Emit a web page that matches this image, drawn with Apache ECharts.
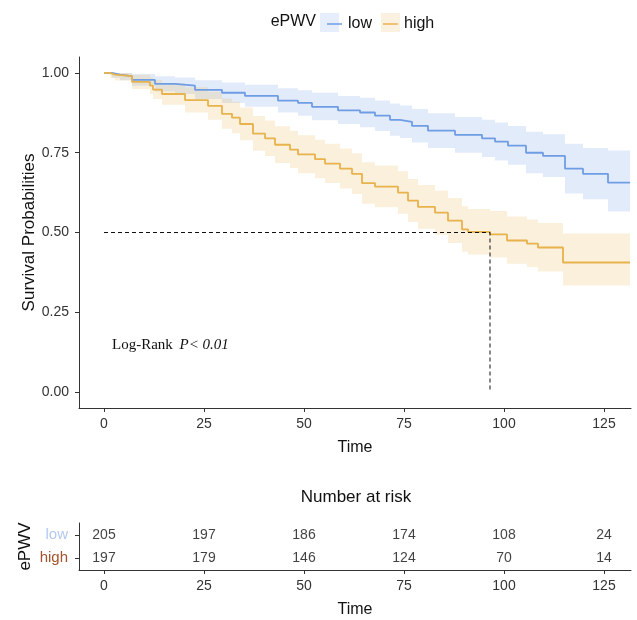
<!DOCTYPE html>
<html>
<head>
<meta charset="utf-8">
<script src="https://cdn.jsdelivr.net/npm/echarts@6/dist/echarts.min.js"></script>
<style>
  html, body { margin: 0; padding: 0; background: #fff; }
  #chart { width: 637px; height: 620px; }
</style>
</head>
<body>
<div id="chart"></div>
<script>
// KM curve for ePWV = low (time, survival, 95% CI)
const lowTime  = [0, 2, 4, 7, 12.75, 17.75, 22.75, 29.5, 35.25, 43.5, 48.5, 52, 58.5, 64, 67.75, 71.5, 74, 77, 81, 87.75, 94.5, 97.75, 101, 105.5, 109.75, 115.25, 119.75, 126, 131.5];
const lowSurv  = [1.000, 0.995, 0.990, 0.978, 0.966, 0.960, 0.947, 0.938, 0.928, 0.913, 0.906, 0.894, 0.883, 0.876, 0.866, 0.853, 0.847, 0.834, 0.819, 0.806, 0.795, 0.785, 0.772, 0.750, 0.740, 0.700, 0.684, 0.656, 0.656];
const lowLower = [1.000, 0.985, 0.977, 0.960, 0.942, 0.934, 0.918, 0.906, 0.894, 0.876, 0.866, 0.852, 0.840, 0.830, 0.818, 0.803, 0.796, 0.782, 0.765, 0.750, 0.737, 0.726, 0.712, 0.686, 0.674, 0.622, 0.604, 0.566, 0.566];
const lowUpper = [1.000, 1.000, 1.000, 0.997, 0.990, 0.986, 0.977, 0.970, 0.963, 0.952, 0.946, 0.938, 0.928, 0.922, 0.914, 0.904, 0.898, 0.887, 0.874, 0.862, 0.853, 0.845, 0.834, 0.816, 0.808, 0.778, 0.765, 0.757, 0.757];

// KM curve for ePWV = high
const highTime  = [0, 1.5, 2.75, 7, 11.5, 12.25, 14.5, 20.25, 26, 29.5, 32, 34, 37.25, 40.25, 42.75, 46.5, 48.5, 52.75, 55.25, 59, 62, 64.5, 67.75, 73.5, 76, 78.5, 82.75, 86, 89.5, 91, 96.5, 100.75, 105.75, 108.5, 114.75, 131.5];
const highSurv  = [1.000, 0.995, 0.990, 0.972, 0.960, 0.948, 0.934, 0.915, 0.897, 0.872, 0.860, 0.840, 0.810, 0.795, 0.775, 0.760, 0.745, 0.730, 0.716, 0.700, 0.684, 0.655, 0.644, 0.625, 0.600, 0.580, 0.562, 0.537, 0.510, 0.502, 0.494, 0.475, 0.465, 0.453, 0.406, 0.406];
const highLower = [1.000, 0.985, 0.976, 0.950, 0.934, 0.918, 0.900, 0.876, 0.853, 0.825, 0.811, 0.789, 0.756, 0.740, 0.718, 0.702, 0.686, 0.670, 0.655, 0.638, 0.621, 0.590, 0.579, 0.559, 0.533, 0.512, 0.493, 0.467, 0.440, 0.431, 0.422, 0.402, 0.391, 0.378, 0.334, 0.334];
const highUpper = [1.000, 1.000, 1.000, 0.994, 0.987, 0.978, 0.968, 0.955, 0.941, 0.920, 0.910, 0.892, 0.865, 0.851, 0.833, 0.819, 0.805, 0.791, 0.778, 0.763, 0.748, 0.720, 0.710, 0.692, 0.668, 0.649, 0.632, 0.608, 0.582, 0.574, 0.567, 0.550, 0.541, 0.530, 0.497, 0.497];

const medianTime = 96.5;
const medianSurv = 0.5;

// number at risk table
const riskTime = [0, 25, 50, 75, 100, 125];
const riskLow  = [205, 197, 186, 174, 108, 24];
const riskHigh = [197, 179, 146, 124, 70, 14];

const xTicks = [0, 25, 50, 75, 100, 125];
const yTicks = [0, 0.25, 0.5, 0.75, 1];
const groups = ['high', 'low'];

const blue = '#6f9de4';
const orange = '#e8b24c';
const font = 'Liberation Sans';

const chart = echarts.init(document.getElementById('chart'));

function pairs(t, v) { return t.map((x, i) => [x, v[i]]); }

// confidence band as one stepped polygon, placed through the axes
function band(name, t, lo, hi, color) {
  return {
    name: name, type: 'custom', silent: true, z: 1,
    data: t.map((x, i) => [x, lo[i], hi[i]]),
    encode: { x: 0, y: [1, 2] },
    renderItem: function (params, api) {
      if (params.dataIndex !== 0) return null;
      const n = t.length;
      const pts = [];
      for (let i = 0; i < n - 1; i++) {
        pts.push(api.coord([t[i], hi[i]]));
        pts.push(api.coord([t[i + 1], hi[i]]));
      }
      for (let i = n - 2; i >= 0; i--) {
        pts.push(api.coord([t[i + 1], lo[i]]));
        pts.push(api.coord([t[i], lo[i]]));
      }
      return {
        type: 'polygon',
        shape: { points: pts },
        style: { fill: color, opacity: 0.2 }
      };
    }
  };
}

const axisLine = { show: true, onZero: false, lineStyle: { color: '#333', width: 1 } };
const axisTick = { show: true, length: 4, lineStyle: { color: '#333' } };

const option = {
  animation: false,
  textStyle: { fontFamily: font },
  legend: {
    data: ['low', 'high'],
    left: 322, top: 11,
    icon: 'path://M0,0 L10,0 L10,1 L0,1 Z',
    itemWidth: 15, itemHeight: 2, itemGap: 11,
    textStyle: { fontSize: 16, color: '#111', padding: [0, 0, 0, 1] }
  },
  graphic: [
    { type: 'rect', shape: { x: 320, y: 13, width: 19, height: 19 }, style: { fill: '#e6eefb' }, z: -1 },
    { type: 'rect', shape: { x: 381, y: 13, width: 19, height: 19 }, style: { fill: '#fbf1e0' }, z: -1 },
    { type: 'text', x: 316, y: 22, style: { text: 'ePWV', fontSize: 16, fontFamily: font, fill: '#111', align: 'right', verticalAlign: 'middle' } },
    { type: 'text', x: 356, y: 497, style: { text: 'Number at risk', fontSize: 17, fontFamily: font, fill: '#111', align: 'center', verticalAlign: 'middle' } },
    {
      type: 'text', x: 112, y: 345,
      style: {
        text: '{a|Log-Rank}  {b|P< 0.01}',
        verticalAlign: 'middle',
        rich: {
          a: { fontSize: 15, fontFamily: 'Liberation Serif', fill: '#111' },
          b: { fontSize: 15, fontFamily: 'Liberation Serif', fontStyle: 'italic', fill: '#111' }
        }
      }
    }
  ],
  grid: [
    { left: 79, right: 6, top: 57, bottom: 212 },
    { left: 79, right: 6, top: 523, bottom: 50 }
  ],
  xAxis: [
    {
      type: 'value', gridIndex: 0, min: -6.25, max: 131.75,
      name: 'Time', nameLocation: 'middle', nameGap: 32,
      nameTextStyle: { fontSize: 16, color: '#111' },
      axisLine, axisTick: Object.assign({ customValues: xTicks }, axisTick),
      axisLabel: { customValues: xTicks, fontSize: 14, color: '#333', margin: 9 },
      splitLine: { show: false }
    },
    {
      type: 'value', gridIndex: 1, min: -6.25, max: 131.75,
      name: 'Time', nameLocation: 'middle', nameGap: 32,
      nameTextStyle: { fontSize: 16, color: '#111' },
      axisLine, axisTick: Object.assign({ customValues: xTicks }, axisTick),
      axisLabel: { customValues: xTicks, fontSize: 14, color: '#333', margin: 9 },
      splitLine: { show: false }
    }
  ],
  yAxis: [
    {
      type: 'value', gridIndex: 0, min: -0.05, max: 1.05,
      name: 'Survival Probabilities', nameLocation: 'middle', nameGap: 41,
      nameMoveOverlap: false,
      nameTextStyle: { fontSize: 17, color: '#111' },
      axisLine, axisTick: Object.assign({ customValues: yTicks }, axisTick),
      axisLabel: { customValues: yTicks, fontSize: 14, color: '#333', margin: 10, formatter: v => v.toFixed(2) },
      splitLine: { show: false }
    },
    {
      type: 'category', gridIndex: 1, data: groups,
      name: 'ePWV', nameLocation: 'middle', nameGap: 45,
      nameMoveOverlap: false,
      nameTextStyle: { fontSize: 17, color: '#111' },
      axisLine, axisTick: Object.assign({ alignWithLabel: true }, axisTick),
      axisLabel: {
        margin: 11,
        formatter: v => '{' + v + '|' + v + '}',
        rich: {
          low: { fontSize: 15, fontFamily: font, color: '#b4c9f2' },
          high: { fontSize: 15, fontFamily: font, color: '#a5532c' }
        }
      },
      splitLine: { show: false }
    }
  ],
  series: [
    band('lowband', lowTime, lowLower, lowUpper, blue),
    band('highband', highTime, highLower, highUpper, orange),
    {
      name: 'low', type: 'line', step: 'end', data: pairs(lowTime, lowSurv),
      symbol: 'none', color: blue, lineStyle: { color: blue, width: 1.8 }, z: 3
    },
    {
      name: 'high', type: 'line', step: 'end', data: pairs(highTime, highSurv),
      symbol: 'none', color: orange, lineStyle: { color: orange, width: 1.8 }, z: 3
    },
    {
      name: 'median', type: 'line', silent: true,
      data: [[0, medianSurv], [medianTime, medianSurv], [medianTime, 0]],
      symbol: 'none', lineStyle: { color: '#111', width: 1, type: [4, 3] }, z: 4
    },
    {
      name: 'risk-low', type: 'scatter', xAxisIndex: 1, yAxisIndex: 1,
      data: riskTime.map((t, i) => [t, 'low', riskLow[i]]),
      symbolSize: 1, itemStyle: { color: 'rgba(0,0,0,0)' },
      label: { show: true, position: 'inside', formatter: p => p.value[2], fontSize: 14, color: '#111' }
    },
    {
      name: 'risk-high', type: 'scatter', xAxisIndex: 1, yAxisIndex: 1,
      data: riskTime.map((t, i) => [t, 'high', riskHigh[i]]),
      symbolSize: 1, itemStyle: { color: 'rgba(0,0,0,0)' },
      label: { show: true, position: 'inside', formatter: p => p.value[2], fontSize: 14, color: '#111' }
    }
  ]
};

chart.setOption(option);
</script>
</body>
</html>
